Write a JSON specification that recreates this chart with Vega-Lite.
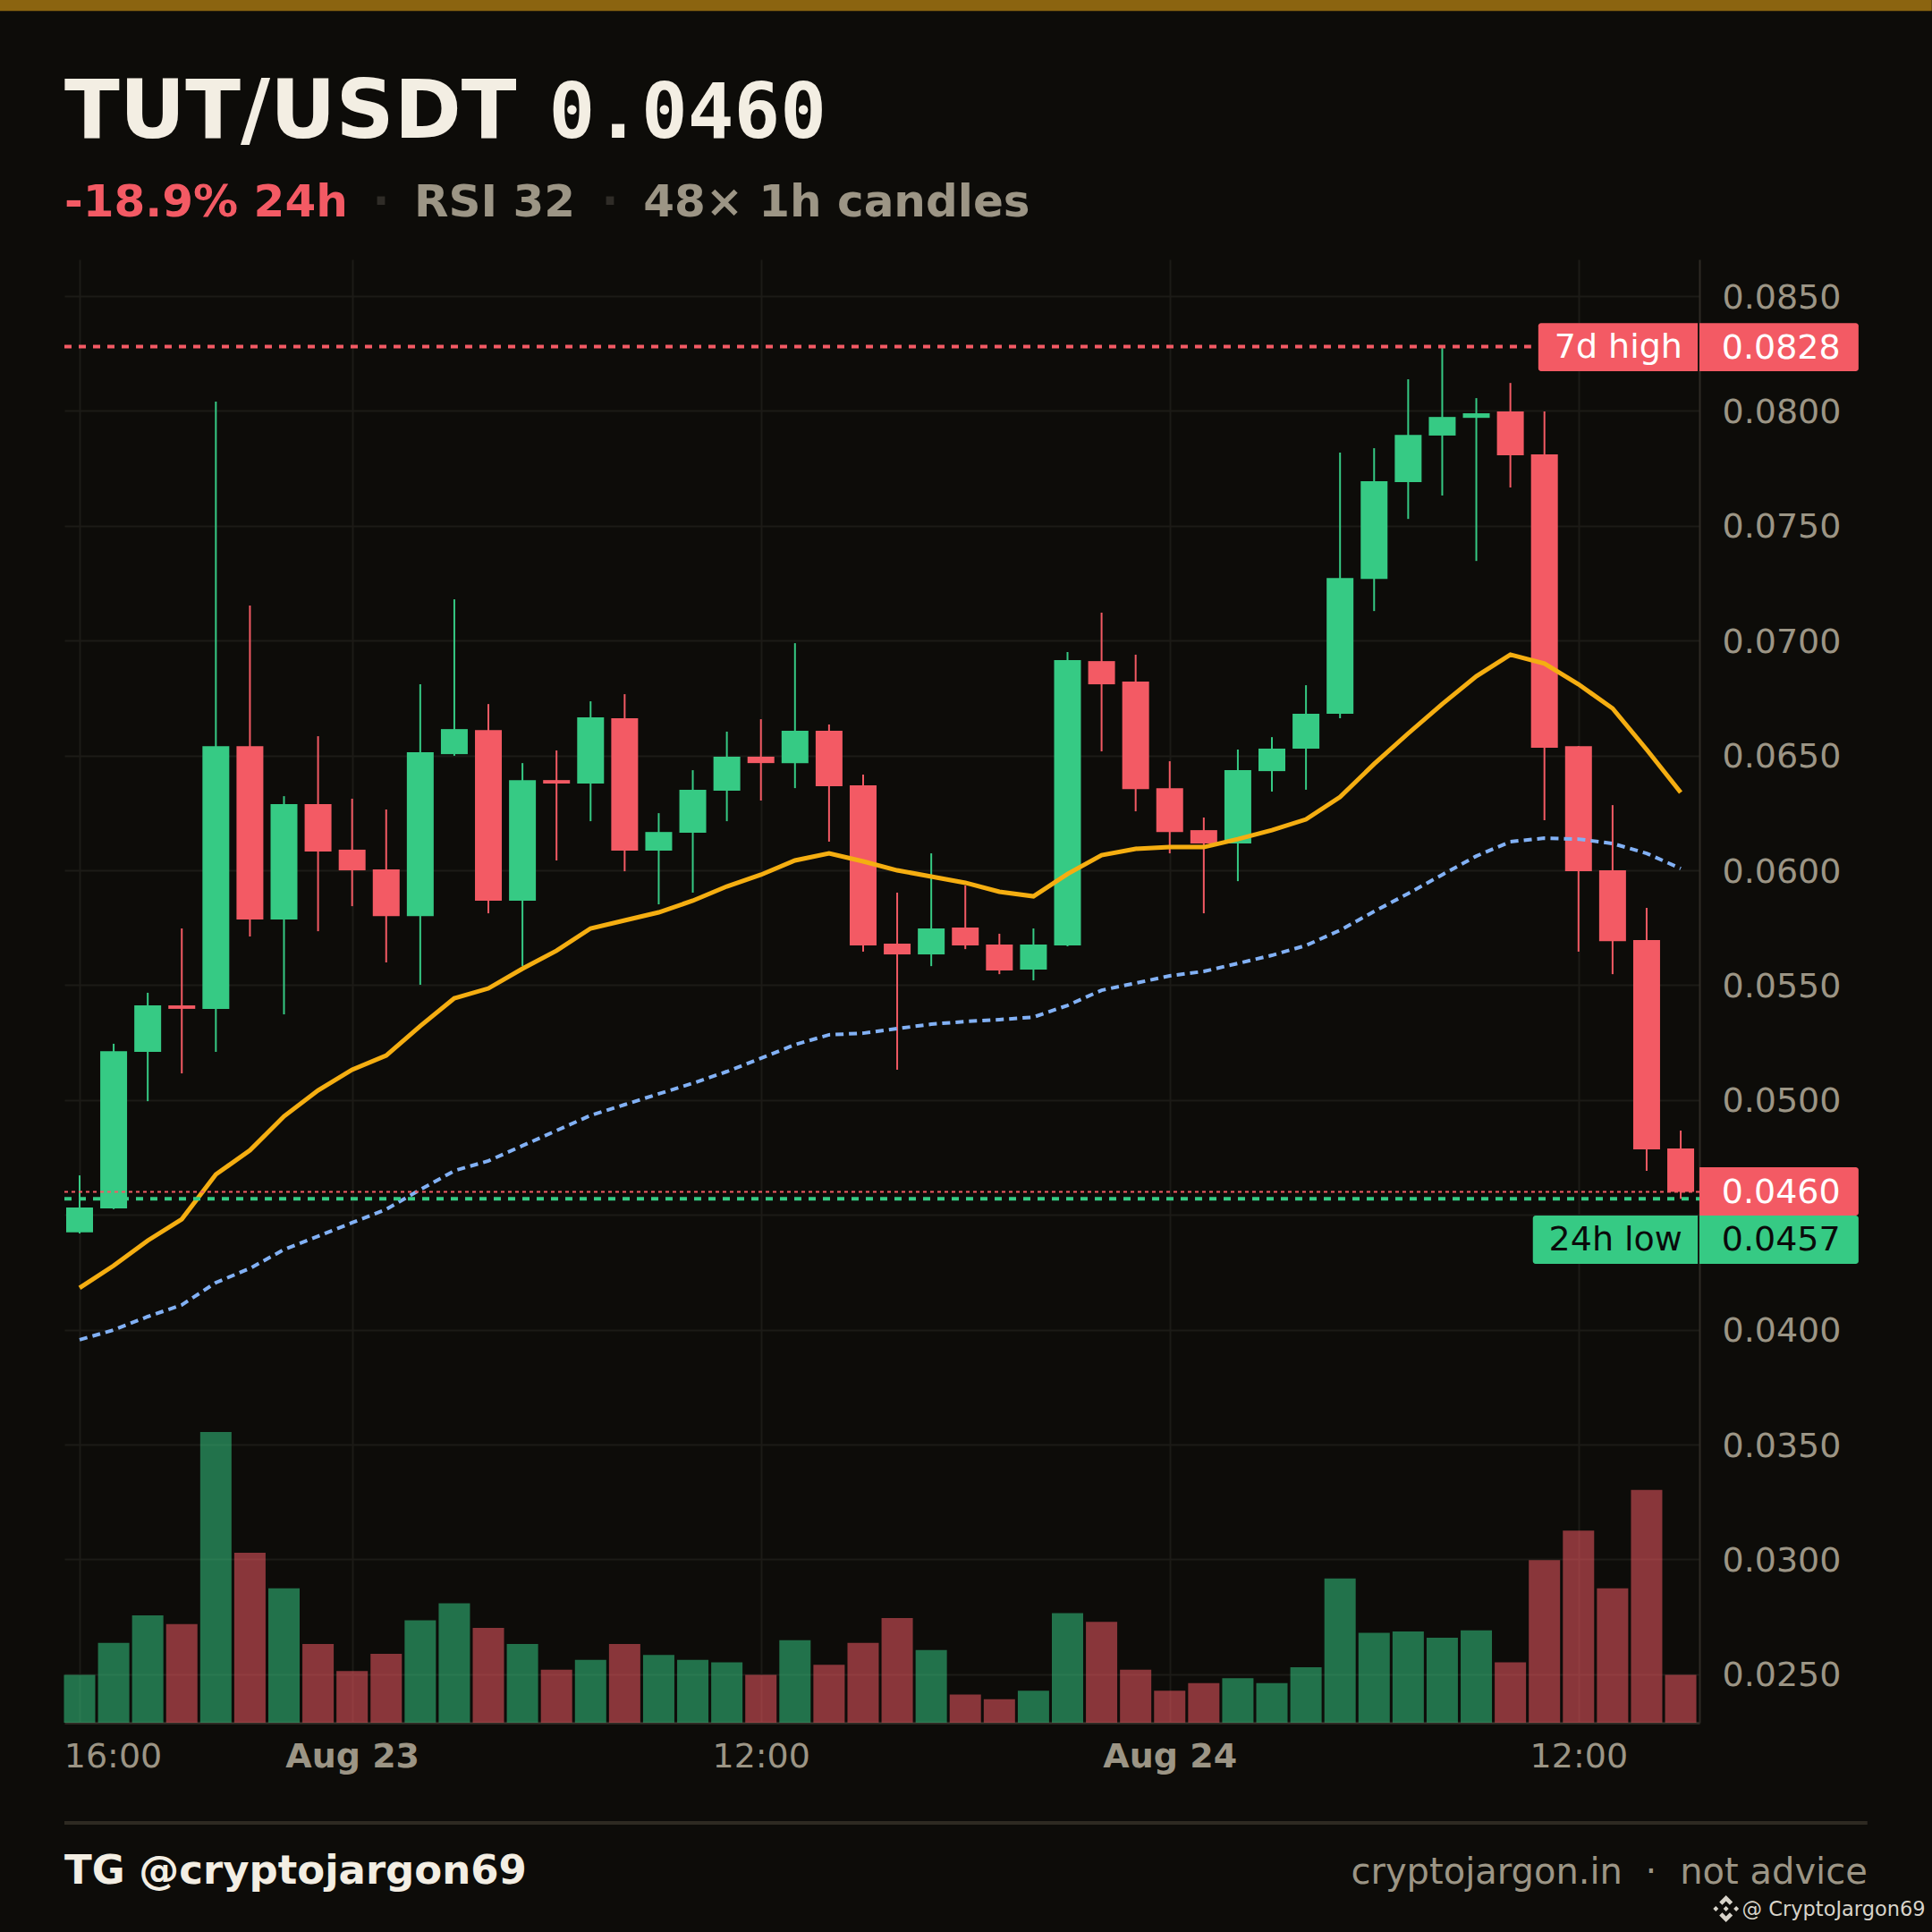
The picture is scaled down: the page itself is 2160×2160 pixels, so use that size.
{
  "$schema": "https://vega.github.io/schema/vega-lite/v6.json",
  "autosize": "none",
  "padding": {"left": 72, "top": 290, "right": 260, "bottom": 234},
  "width": 1828,
  "height": 1636,
  "background": "#0d0c09",
  "config": {"view": {"stroke": null}, "font": "DejaVu Sans"},
  "data": {"name": "candles"},
  "datasets": {
    "candles": [
      {"i":0,"o":0.04424,"h":0.04672,"l":0.04419,"c":0.04532,"v":16.5,"ma":0.04182,"ema":0.03956},
      {"i":1,"o":0.04528,"h":0.05245,"l":0.04525,"c":0.05213,"v":27.5,"ma":0.04279,"ema":0.03999},
      {"i":2,"o":0.0521,"h":0.05467,"l":0.04995,"c":0.05412,"v":36.9,"ma":0.04388,"ema":0.04057},
      {"i":3,"o":0.05412,"h":0.05747,"l":0.05116,"c":0.05397,"v":33.9,"ma":0.04481,"ema":0.04108},
      {"i":4,"o":0.05397,"h":0.08041,"l":0.0521,"c":0.06541,"v":100,"ma":0.04676,"ema":0.04205},
      {"i":5,"o":0.06541,"h":0.07153,"l":0.05712,"c":0.05786,"v":58.5,"ma":0.04781,"ema":0.04267},
      {"i":6,"o":0.05786,"h":0.06323,"l":0.05373,"c":0.06288,"v":46.2,"ma":0.04929,"ema":0.04349},
      {"i":7,"o":0.06288,"h":0.06584,"l":0.05735,"c":0.06082,"v":27.1,"ma":0.05042,"ema":0.04407},
      {"i":8,"o":0.0609,"h":0.06312,"l":0.05844,"c":0.06,"v":17.8,"ma":0.05132,"ema":0.04466},
      {"i":9,"o":0.06004,"h":0.06265,"l":0.05599,"c":0.05801,"v":23.7,"ma":0.05194,"ema":0.04524},
      {"i":10,"o":0.05801,"h":0.0681,"l":0.05502,"c":0.06514,"v":35.2,"ma":0.05322,"ema":0.0461},
      {"i":11,"o":0.06506,"h":0.0718,"l":0.06499,"c":0.06615,"v":41.1,"ma":0.05443,"ema":0.04692},
      {"i":12,"o":0.06611,"h":0.06724,"l":0.05813,"c":0.05868,"v":32.6,"ma":0.05486,"ema":0.04735},
      {"i":13,"o":0.05868,"h":0.06467,"l":0.05583,"c":0.06393,"v":27.1,"ma":0.05572,"ema":0.04801},
      {"i":14,"o":0.06393,"h":0.06522,"l":0.06043,"c":0.06378,"v":18.2,"ma":0.0565,"ema":0.04867},
      {"i":15,"o":0.06378,"h":0.06736,"l":0.06214,"c":0.06666,"v":21.6,"ma":0.05747,"ema":0.04933},
      {"i":16,"o":0.06662,"h":0.06767,"l":0.05996,"c":0.06086,"v":27.1,"ma":0.05782,"ema":0.0498},
      {"i":17,"o":0.06086,"h":0.06249,"l":0.05852,"c":0.06167,"v":23.3,"ma":0.05817,"ema":0.05027},
      {"i":18,"o":0.06164,"h":0.06436,"l":0.05903,"c":0.06351,"v":21.6,"ma":0.05868,"ema":0.05073},
      {"i":19,"o":0.06347,"h":0.06604,"l":0.06214,"c":0.06495,"v":20.8,"ma":0.0593,"ema":0.05124},
      {"i":20,"o":0.06495,"h":0.06658,"l":0.06304,"c":0.06467,"v":16.5,"ma":0.05981,"ema":0.05182},
      {"i":21,"o":0.06467,"h":0.06989,"l":0.06358,"c":0.06608,"v":28.4,"ma":0.06043,"ema":0.05241},
      {"i":22,"o":0.06608,"h":0.06635,"l":0.06125,"c":0.06366,"v":19.9,"ma":0.06074,"ema":0.05284},
      {"i":23,"o":0.0637,"h":0.06417,"l":0.05646,"c":0.05673,"v":27.5,"ma":0.06039,"ema":0.05291},
      {"i":24,"o":0.05681,"h":0.05903,"l":0.05132,"c":0.05634,"v":36,"ma":0.06,"ema":0.05311},
      {"i":25,"o":0.05634,"h":0.06074,"l":0.05583,"c":0.05747,"v":25,"ma":0.05973,"ema":0.0533},
      {"i":26,"o":0.05751,"h":0.05934,"l":0.05657,"c":0.05673,"v":9.7,"ma":0.05946,"ema":0.05342},
      {"i":27,"o":0.05677,"h":0.05724,"l":0.05548,"c":0.05564,"v":8.1,"ma":0.05907,"ema":0.0535},
      {"i":28,"o":0.05568,"h":0.05747,"l":0.05521,"c":0.05677,"v":11,"ma":0.05887,"ema":0.05361},
      {"i":29,"o":0.05673,"h":0.0695,"l":0.05669,"c":0.06915,"v":37.7,"ma":0.05984,"ema":0.05412},
      {"i":30,"o":0.06911,"h":0.07122,"l":0.06518,"c":0.0681,"v":34.7,"ma":0.06066,"ema":0.05478},
      {"i":31,"o":0.06822,"h":0.06939,"l":0.06257,"c":0.06354,"v":18.2,"ma":0.06094,"ema":0.05509},
      {"i":32,"o":0.06358,"h":0.06475,"l":0.06074,"c":0.06167,"v":11,"ma":0.06101,"ema":0.05541},
      {"i":33,"o":0.06175,"h":0.0623,"l":0.05813,"c":0.06117,"v":13.6,"ma":0.06101,"ema":0.0556},
      {"i":34,"o":0.06117,"h":0.06526,"l":0.05953,"c":0.06436,"v":15.3,"ma":0.06136,"ema":0.05595},
      {"i":35,"o":0.06432,"h":0.0658,"l":0.06343,"c":0.0653,"v":13.6,"ma":0.06175,"ema":0.0563},
      {"i":36,"o":0.0653,"h":0.06806,"l":0.06351,"c":0.06682,"v":19.1,"ma":0.06222,"ema":0.05673},
      {"i":37,"o":0.06682,"h":0.07819,"l":0.06662,"c":0.07273,"v":49.6,"ma":0.06319,"ema":0.05739},
      {"i":38,"o":0.07269,"h":0.07838,"l":0.07129,"c":0.07694,"v":30.9,"ma":0.06463,"ema":0.05821},
      {"i":39,"o":0.0769,"h":0.08138,"l":0.0753,"c":0.07896,"v":31.4,"ma":0.06596,"ema":0.05899},
      {"i":40,"o":0.07893,"h":0.0828,"l":0.07632,"c":0.07974,"v":29.2,"ma":0.06724,"ema":0.05981},
      {"i":41,"o":0.0797,"h":0.08056,"l":0.07347,"c":0.0799,"v":31.8,"ma":0.06845,"ema":0.06062},
      {"i":42,"o":0.07998,"h":0.08122,"l":0.07667,"c":0.07807,"v":20.8,"ma":0.06939,"ema":0.06125},
      {"i":43,"o":0.07811,"h":0.07998,"l":0.06218,"c":0.06534,"v":55.9,"ma":0.069,"ema":0.0614},
      {"i":44,"o":0.06541,"h":0.06541,"l":0.05646,"c":0.05996,"v":66.1,"ma":0.0681,"ema":0.06136},
      {"i":45,"o":0.06,"h":0.06284,"l":0.05548,"c":0.05692,"v":46.2,"ma":0.06705,"ema":0.06117},
      {"i":46,"o":0.05696,"h":0.05837,"l":0.04692,"c":0.04785,"v":80.1,"ma":0.06526,"ema":0.06074},
      {"i":47,"o":0.04789,"h":0.04867,"l":0.0457,"c":0.046,"v":16.5,"ma":0.06339,"ema":0.06008}
    ]
  },
  "resolve": {"scale": {"y": "independent"}},
  "layer": [
    {
      "mark": {"type": "bar", "size": 35, "opacity": 0.54},
      "encoding": {
        "x": {"field": "i", "type": "quantitative", "scale": {"domain": [-0.446, 47.55], "nice": false, "zero": false, "padding": 0}},
        "y": {"field": "v", "type": "quantitative", "axis": null, "scale": {"domain": [0, 503.4], "nice": false}},
        "color": {"condition": {"test": "datum.c >= datum.o", "value": "#36ca84"}, "value": "#f35a64"}
      }
    },
    {
      "layer": [
        {
          "mark": {"type": "rule", "strokeWidth": 2},
          "encoding": {
            "x": {
              "field": "i", "type": "quantitative",
              "scale": {"domain": [-0.446, 47.55], "nice": false, "zero": false, "padding": 0},
              "axis": {
                "title": null, "values": [0, 8, 20, 32, 44], "ticks": false,
                "labelExpr": "datum.value == 0 ? '16:00' : datum.value == 8 ? 'Aug 23' : datum.value == 32 ? 'Aug 24' : '12:00'",
                "labelFontSize": 38, "labelColor": "#9c9585", "labelPadding": 19,
                "labelFontWeight": {"condition": {"test": "datum.value == 8 || datum.value == 32", "value": "bold"}, "value": "normal"},
                "labelOffset": {"condition": {"test": "datum.value == 0", "value": 37}, "value": 0},
                "grid": true, "gridColor": "#1c1b17", "gridWidth": 2,
                "domainColor": "#2e2a24", "domainWidth": 3
              }
            },
            "y": {
              "field": "l", "type": "quantitative",
              "scale": {"domain": [0.02289, 0.0866], "nice": false, "zero": false},
              "axis": {
                "title": null, "orient": "right", "ticks": false,
                "values": [0.025, 0.03, 0.035, 0.04, 0.045, 0.05, 0.055, 0.06, 0.065, 0.07, 0.075, 0.08, 0.085],
                "labelExpr": "abs(datum.value - 0.045) < 0.000001 ? '' : format(datum.value, '.4f')",
                "labelFontSize": 38, "labelColor": "#9c9585", "labelPadding": 25, "labelAlign": "left", "labelOffset": 2,
                "grid": true, "gridColor": "#1c1b17", "gridWidth": 2,
                "domainColor": "#2e2a24", "domainWidth": 2
              }
            },
            "y2": {"field": "h"},
            "color": {"condition": {"test": "datum.c >= datum.o", "value": "#36ca84"}, "value": "#f35a64"}
          }
        },
        {
          "mark": {"type": "bar", "size": 30},
          "encoding": {
            "x": {"field": "i", "type": "quantitative"},
            "y": {"field": "o", "type": "quantitative"},
            "y2": {"field": "c"},
            "color": {"condition": {"test": "datum.c >= datum.o", "value": "#36ca84"}, "value": "#f35a64"}
          }
        },
        {
          "mark": {"type": "line", "stroke": "#82b1f5", "strokeWidth": 4, "strokeDash": [9, 6]},
          "encoding": {
            "x": {"field": "i", "type": "quantitative"},
            "y": {"field": "ema", "type": "quantitative"}
          }
        },
        {
          "mark": {"type": "line", "stroke": "#f5ae11", "strokeWidth": 5},
          "encoding": {
            "x": {"field": "i", "type": "quantitative"},
            "y": {"field": "ma", "type": "quantitative"}
          }
        },
        {
          "data": {"values": [{"price": 0.0828}]},
          "mark": {"type": "rule", "stroke": "#f35a64", "strokeWidth": 4, "strokeDash": [8, 8]},
          "encoding": {
            "x": {"datum": -0.446, "type": "quantitative"},
            "x2": {"datum": 42.61},
            "y": {"field": "price", "type": "quantitative"}
          }
        },
        {
          "data": {"values": [{"price": 0.046}]},
          "mark": {"type": "rule", "stroke": "#f35a64", "strokeWidth": 2, "strokeDash": [4, 4]},
          "encoding": {
            "x": {"datum": -0.446, "type": "quantitative"},
            "x2": {"datum": 47.55},
            "y": {"field": "price", "type": "quantitative"}
          }
        },
        {
          "data": {"values": [{"price": 0.0457}]},
          "mark": {"type": "rule", "stroke": "#36ca84", "strokeWidth": 4, "strokeDash": [8, 8]},
          "encoding": {
            "x": {"datum": -0.446, "type": "quantitative"},
            "x2": {"datum": 47.55},
            "y": {"field": "price", "type": "quantitative"}
          }
        },
        {
          "data": {"values": [{}]},
          "mark": {"type": "rect", "fill": "#f35a64", "cornerRadiusTopLeft": 3, "cornerRadiusBottomLeft": 3},
          "encoding": {
            "x": {"datum": 42.82, "type": "quantitative"},
            "x2": {"datum": 47.5},
            "y": {"datum": 0.08383, "type": "quantitative"},
            "y2": {"datum": 0.08173}
          }
        },
        {
          "data": {"values": [{}]},
          "mark": {"type": "rect", "fill": "#f35a64", "cornerRadiusTopRight": 3, "cornerRadiusBottomRight": 3},
          "encoding": {
            "x": {"datum": 47.55, "type": "quantitative"},
            "x2": {"datum": 52.22},
            "y": {"datum": 0.08383, "type": "quantitative"},
            "y2": {"datum": 0.08173}
          }
        },
        {
          "data": {"values": [{}]},
          "mark": {"type": "rect", "fill": "#f35a64", "cornerRadiusTopRight": 3, "cornerRadiusBottomRight": 3},
          "encoding": {
            "x": {"datum": 47.55, "type": "quantitative"},
            "x2": {"datum": 52.22},
            "y": {"datum": 0.04707, "type": "quantitative"},
            "y2": {"datum": 0.04497}
          }
        },
        {
          "data": {"values": [{}]},
          "mark": {"type": "rect", "fill": "#36ca84", "cornerRadiusTopLeft": 3, "cornerRadiusBottomLeft": 3},
          "encoding": {
            "x": {"datum": 42.66, "type": "quantitative"},
            "x2": {"datum": 47.5},
            "y": {"datum": 0.04497, "type": "quantitative"},
            "y2": {"datum": 0.04287}
          }
        },
        {
          "data": {"values": [{}]},
          "mark": {"type": "rect", "fill": "#36ca84", "cornerRadiusTopRight": 3, "cornerRadiusBottomRight": 3},
          "encoding": {
            "x": {"datum": 47.55, "type": "quantitative"},
            "x2": {"datum": 52.22},
            "y": {"datum": 0.04497, "type": "quantitative"},
            "y2": {"datum": 0.04287}
          }
        },
        {
          "data": {"values": [{"label": "7d high"}]},
          "mark": {"type": "text", "align": "right", "baseline": "middle", "dy": 1, "fontSize": 38, "fill": "#ffffff"},
          "encoding": {
            "x": {"datum": 47.05, "type": "quantitative"},
            "y": {"datum": 0.0828, "type": "quantitative"},
            "text": {"field": "label"}
          }
        },
        {
          "data": {"values": [{"label": "0.0828"}]},
          "mark": {"type": "text", "align": "left", "baseline": "middle", "dy": 2, "fontSize": 38, "fill": "#ffffff"},
          "encoding": {
            "x": {"datum": 48.2, "type": "quantitative"},
            "y": {"datum": 0.0828, "type": "quantitative"},
            "text": {"field": "label"}
          }
        },
        {
          "data": {"values": [{"label": "0.0460"}]},
          "mark": {"type": "text", "align": "left", "baseline": "middle", "dy": 1, "fontSize": 38, "fill": "#ffffff"},
          "encoding": {
            "x": {"datum": 48.2, "type": "quantitative"},
            "y": {"datum": 0.046, "type": "quantitative"},
            "text": {"field": "label"}
          }
        },
        {
          "data": {"values": [{"label": "24h low"}]},
          "mark": {"type": "text", "align": "right", "baseline": "middle", "dy": 1, "fontSize": 38, "fill": "#0a0a0a"},
          "encoding": {
            "x": {"datum": 47.05, "type": "quantitative"},
            "y": {"datum": 0.04392, "type": "quantitative"},
            "text": {"field": "label"}
          }
        },
        {
          "data": {"values": [{"label": "0.0457"}]},
          "mark": {"type": "text", "align": "left", "baseline": "middle", "dy": 1, "fontSize": 38, "fill": "#0a0a0a"},
          "encoding": {
            "x": {"datum": 48.2, "type": "quantitative"},
            "y": {"datum": 0.04392, "type": "quantitative"},
            "text": {"field": "label"}
          }
        },
        {
          "data": {"values": [{}]},
          "mark": {"type": "rect", "fill": "#8b6410"},
          "encoding": {
            "x": {"datum": -2.337, "type": "quantitative"},
            "x2": {"datum": 54.37},
            "y": {"datum": 0.0979, "type": "quantitative"},
            "y2": {"datum": 0.09742}
          }
        },
        {
          "data": {"values": [{"label": "TUT/USDT"}]},
          "mark": {"type": "text", "align": "left", "baseline": "alphabetic", "fontSize": 90.5, "fontWeight": "bold", "fill": "#f3eee3"},
          "encoding": {
            "x": {"datum": -0.446, "type": "quantitative"},
            "y": {"datum": 0.09189, "type": "quantitative"},
            "text": {"field": "label"}
          }
        },
        {
          "data": {"values": [{"label": "0.0460"}]},
          "mark": {"type": "text", "align": "left", "baseline": "alphabetic", "font": "DejaVu Sans Mono", "fontSize": 86, "fontWeight": "bold", "fill": "#f3eee3"},
          "encoding": {
            "x": {"datum": 13.77, "type": "quantitative"},
            "y": {"datum": 0.09189, "type": "quantitative"},
            "text": {"field": "label"}
          }
        },
        {
          "data": {"values": [{"label": "-18.9% 24h"}]},
          "mark": {"type": "text", "align": "left", "baseline": "alphabetic", "fontSize": 50, "fontWeight": "bold", "fill": "#f35a64"},
          "encoding": {
            "x": {"datum": -0.446, "type": "quantitative"},
            "y": {"datum": 0.08847, "type": "quantitative"},
            "text": {"field": "label"}
          }
        },
        {
          "data": {"values": [{"label": "·", "at": 8.85}, {"label": "·", "at": 15.57}]},
          "mark": {"type": "text", "align": "center", "baseline": "alphabetic", "fontSize": 50, "fontWeight": "bold", "fill": "#2f2c27"},
          "encoding": {
            "x": {"field": "at", "type": "quantitative"},
            "y": {"datum": 0.08847, "type": "quantitative"},
            "text": {"field": "label"}
          }
        },
        {
          "data": {"values": [{"label": "RSI 32"}]},
          "mark": {"type": "text", "align": "left", "baseline": "alphabetic", "fontSize": 50, "fontWeight": "bold", "fill": "#9c9585"},
          "encoding": {
            "x": {"datum": 9.82, "type": "quantitative"},
            "y": {"datum": 0.08847, "type": "quantitative"},
            "text": {"field": "label"}
          }
        },
        {
          "data": {"values": [{"label": "48× 1h candles"}]},
          "mark": {"type": "text", "align": "left", "baseline": "alphabetic", "fontSize": 50, "fontWeight": "bold", "fill": "#9c9585"},
          "encoding": {
            "x": {"datum": 16.55, "type": "quantitative"},
            "y": {"datum": 0.08847, "type": "quantitative"},
            "text": {"field": "label"}
          }
        },
        {
          "data": {"values": [{}]},
          "mark": {"type": "rule", "stroke": "#2e2a22", "strokeWidth": 4},
          "encoding": {
            "x": {"datum": -0.446, "type": "quantitative"},
            "x2": {"datum": 52.48},
            "y": {"datum": 0.01853, "type": "quantitative"}
          }
        },
        {
          "data": {"values": [{"label": "TG @cryptojargon69"}]},
          "mark": {"type": "text", "align": "left", "baseline": "alphabetic", "fontSize": 45, "fontWeight": "bold", "fill": "#f3eee3"},
          "encoding": {
            "x": {"datum": -0.446, "type": "quantitative"},
            "y": {"datum": 0.01588, "type": "quantitative"},
            "text": {"field": "label"}
          }
        },
        {
          "data": {"values": [{"label": "cryptojargon.in"}]},
          "mark": {"type": "text", "align": "right", "baseline": "alphabetic", "fontSize": 40, "fill": "#9c9585"},
          "encoding": {
            "x": {"datum": 45.29, "type": "quantitative"},
            "y": {"datum": 0.01588, "type": "quantitative"},
            "text": {"field": "label"}
          }
        },
        {
          "data": {"values": [{"label": "·"}]},
          "mark": {"type": "text", "align": "center", "baseline": "alphabetic", "fontSize": 40, "fill": "#9c9585"},
          "encoding": {
            "x": {"datum": 46.13, "type": "quantitative"},
            "y": {"datum": 0.01588, "type": "quantitative"},
            "text": {"field": "label"}
          }
        },
        {
          "data": {"values": [{"label": "not advice"}]},
          "mark": {"type": "text", "align": "right", "baseline": "alphabetic", "fontSize": 40, "fill": "#9c9585"},
          "encoding": {
            "x": {"datum": 52.48, "type": "quantitative"},
            "y": {"datum": 0.01588, "type": "quantitative"},
            "text": {"field": "label"}
          }
        },
        {
          "data": {"values": [{}]},
          "mark": {
            "type": "point", "filled": true, "fill": "#d8d4ca", "opacity": 1, "size": 900,
            "shape": "M0,-.2L.2,0L0,.2L-.2,0ZM0,-1L.5,-.5L.28,-.28L0,-.56L-.28,-.28L-.5,-.5ZM0,1L.5,.5L.28,.28L0,.56L-.28,.28L-.5,.5ZM-.76,-.2L-.56,0L-.76,.2L-.96,0ZM.76,-.2L.96,0L.76,.2L.56,0Z"
          },
          "encoding": {
            "x": {"datum": 48.33, "type": "quantitative"},
            "y": {"datum": 0.01479, "type": "quantitative"}
          }
        },
        {
          "data": {"values": [{"label": "@ CryptoJargon69"}]},
          "mark": {"type": "text", "align": "left", "baseline": "alphabetic", "fontSize": 22.5, "fill": "#d8d4ca"},
          "encoding": {
            "x": {"datum": 48.8, "type": "quantitative"},
            "y": {"datum": 0.01448, "type": "quantitative"},
            "text": {"field": "label"}
          }
        }
      ]
    }
  ]
}
